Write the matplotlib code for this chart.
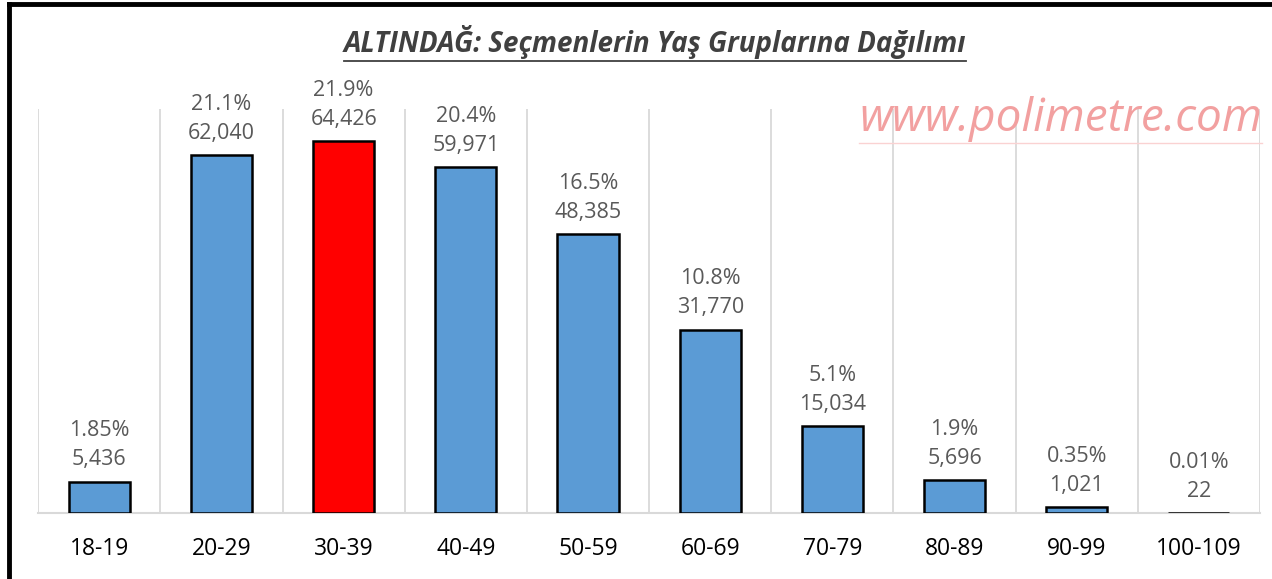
import numpy as np
import matplotlib.pyplot as plt
from matplotlib.lines import Line2D

groups = ["18-19", "20-29", "30-39", "40-49", "50-59", "60-69", "70-79", "80-89", "90-99", "100-109"]
voters = [5436, 62040, 64426, 59971, 48385, 31770, 15034, 5696, 1021, 22]
shares = ["1.85%", "21.1%", "21.9%", "20.4%", "16.5%", "10.8%", "5.1%", "1.9%", "0.35%", "0.01%"]
highlight = "30-39"

plt.rcParams['font.family'] = ['Open Sans', 'DejaVu Sans']

fig = plt.figure(figsize=(12.72, 5.79), dpi=100)
ax = fig.add_axes([0.030, 0.114, 0.9606, 0.698])

x = np.arange(len(groups))
colors = ['#ff0000' if g == highlight else '#5b9bd5' for g in groups]
ax.bar(x, voters, width=0.5, color=colors, edgecolor='black', linewidth=1.8, zorder=3)

for xi, v, s in zip(x, voters, shares):
    ax.annotate(f"{s}\n{v:,}", (xi, v), xytext=(0, 8), textcoords='offset points',
                ha='center', va='bottom', fontsize=15.5, color='#595959', linespacing=1.5)

ax.set_xlim(-0.5, len(groups) - 0.5)
ax.set_ylim(0, 70000)
ax.set_xticks(x)
ax.set_xticklabels(groups, fontsize=16.5, color='black')
ax.set_xticks(np.arange(-0.5, len(groups)), minor=True)
ax.tick_params(axis='x', which='both', length=0, pad=17)
ax.set_yticks([])
ax.grid(axis='x', which='minor', color='#d9d9d9', linewidth=1.3, zorder=0)
for side in ['top', 'left', 'right']:
    ax.spines[side].set_visible(False)
ax.spines['bottom'].set_color('#d9d9d9')
ax.spines['bottom'].set_linewidth(1.5)

title = fig.text(0.515, 0.928, "ALTINDAĞ: Seçmenlerin Yaş Gruplarına Dağılımı", ha='center', va='center',
                 fontsize=20, fontstyle='italic', fontweight='bold', color='#404040')
wm = fig.text(0.992, 0.795, "www.polimetre.com", ha='right', va='center',
              fontsize=33, fontstyle='italic', color='#f2a0a0')

# underline the title and watermark
fig.canvas.draw()
r = fig.canvas.get_renderer()
inv = fig.transFigure.inverted()
for t, col, lw, gap in [(title, '#404040', 1.3, 2), (wm, '#fad2d2', 1.0, 1)]:
    bb = t.get_window_extent(r)
    (x0, y0), (x1, _) = inv.transform([(bb.x0, bb.y0 - gap), (bb.x1, bb.y0 - gap)])
    fig.add_artist(Line2D([x0, x1], [y0, y0], color=col, linewidth=lw, transform=fig.transFigure))

# black frame on top and left
fig.add_artist(Line2D([0.0071, 1.0], [0.9935, 0.9935], color='black', linewidth=3.5, transform=fig.transFigure))
fig.add_artist(Line2D([0.0071, 0.0071], [0.0, 0.9935], color='black', linewidth=3.5, transform=fig.transFigure))

fig.savefig('out.png', dpi=100, facecolor='white')
